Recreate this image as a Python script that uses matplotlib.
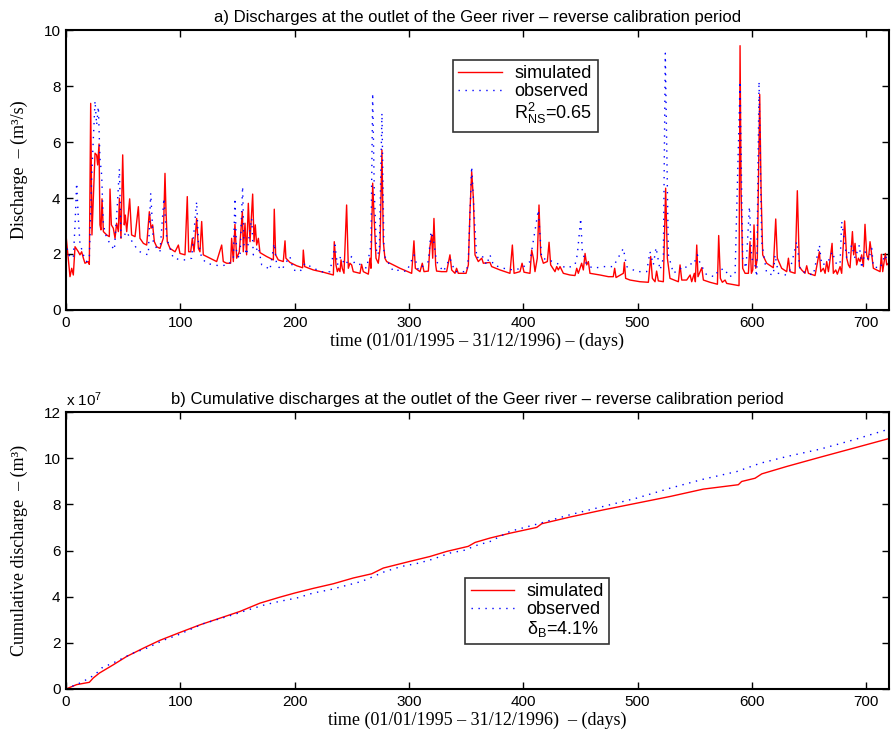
import matplotlib
matplotlib.use("Agg")
import matplotlib.pyplot as plt
from matplotlib.lines import Line2D

plt.rcParams['font.family'] = ['Liberation Sans', 'DejaVu Sans']
plt.rcParams['mathtext.fontset'] = 'custom'
plt.rcParams['mathtext.rm'] = 'Liberation Sans'
plt.rcParams['mathtext.it'] = 'Liberation Sans'
plt.rcParams['mathtext.default'] = 'regular'

# ---------------- data ----------------
sim_days = [
    0, 3.5, 5.0, 6.4, 7.9, 10.8, 12.2, 13.7, 15.2, 16.6, 19.5, 20.4, 21.6, 22.7, 25.4, 26.8, 27.7, 28.9, 29.7, 30.6,
    31.5, 32.7, 35.6, 37.9, 38.5, 39.7, 41.4, 42.9, 44.3, 45.8, 46.7, 48.1, 49.6, 51.0, 51.9, 53.1, 55.7, 57.4, 60.4, 63.3,
    64.7, 67.7, 70.6, 72.9, 74.4, 75.8, 77.3, 79.3, 82.2, 83.7, 85.1, 86.6, 87.5, 88.6, 91.0, 95.4, 98.3, 99.7, 104.1, 106.1,
    107.3, 109.1, 110.5, 112.0, 114.3, 115.8, 117.2, 118.7, 120.1, 126.0, 131.8, 136.2, 137.6, 140.6, 144.0, 144.9, 146.4, 147.8, 149.3, 151.6,
    154.3, 155.1, 156.6, 158.0, 159.5, 161.0, 163.3, 164.5, 165.6, 166.8, 168.3, 169.7, 175.5, 181.4, 182.2, 183.4, 185.7, 190.1, 191.6, 192.4,
    195.9, 201.8, 207.0, 207.6, 208.8, 216.4, 225.1, 233.9, 234.7, 236.2, 237.4, 238.5, 239.7, 240.6, 241.7, 243.2, 245.5, 247.0, 248.4, 249.9,
    251.3, 257.2, 258.6, 260.1, 264.5, 265.9, 266.8, 268.3, 269.7, 271.2, 273.2, 274.7, 276.4, 277.6, 279.0, 280.5, 286.3, 292.2, 298.0, 302.4,
    304.4, 305.6, 309.7, 311.7, 313.2, 317.0, 318.4, 319.9, 320.8, 321.9, 323.4, 324.2, 328.6, 333.0, 335.9, 337.4, 340.3, 341.7, 343.2, 350.0,
    352.0, 353.4, 354.9, 356.4, 357.8, 360.7, 363.7, 365.1, 370.9, 372.4, 379.7, 388.4, 390.5, 392.0, 397.2, 399.0, 400.7, 405.9, 407.4, 408.9,
    410.3, 412.3, 413.8, 415.3, 417.6, 421.1, 422.6, 424.0, 427.8, 429.3, 430.7, 432.2, 435.1, 440.9, 445.3, 446.8, 448.2, 451.1, 452.6, 454.1,
    455.5, 457.0, 458.4, 467.2, 474.5, 478.8, 480.0, 481.2, 487.6, 488.5, 489.6, 493.4, 502.2, 509.5, 511.5, 513.0, 515.3, 516.7, 518.2, 522.6,
    524.6, 526.1, 528.4, 535.7, 537.2, 538.7, 543.0, 546.0, 547.4, 549.7, 550.6, 551.8, 552.9, 554.7, 556.2, 557.6, 563.4, 569.9, 571.0, 572.5,
    574.2, 576.6, 578.0, 588.8, 589.7, 590.6, 592.0, 594.1, 597.0, 598.4, 599.6, 600.8, 601.9, 603.4, 604.8, 606.9, 608.1, 609.5, 613.0, 618.8,
    620.9, 622.3, 626.1, 630.5, 632.0, 633.4, 637.8, 639.8, 641.6, 643.6, 646.5, 648.0, 649.5, 655.3, 659.1, 660.3, 662.6, 664.1, 665.5, 667.0,
    668.4, 670.2, 671.3, 673.4, 674.8, 677.2, 678.6, 681.2, 683.0, 684.5, 685.9, 688.0, 689.1, 690.3, 691.7, 693.2, 694.7, 696.1, 697.6, 699.0,
    700.5, 702.0, 703.4, 704.9, 706.3, 712.2, 713.3, 714.5, 716.8, 718.0, 719.5, 720]
sim_q = [
    2.68, 1.19, 1.49, 1.25, 2.26, 2.08, 1.97, 2.08, 1.85, 1.67, 1.73, 1.63, 7.38, 2.68, 5.60, 5.54, 5.18, 5.93, 3.04, 2.86,
    3.97, 2.80, 2.68, 2.62, 4.32, 3.04, 2.92, 2.56, 3.10, 2.80, 3.99, 2.56, 5.54, 3.04, 3.39, 2.80, 3.97, 2.68, 2.62, 3.69,
    2.56, 2.38, 2.32, 3.51, 2.92, 3.04, 2.44, 2.26, 2.20, 2.38, 2.56, 4.88, 3.51, 2.44, 2.20, 2.08, 2.32, 2.02, 1.97, 4.05,
    2.08, 2.08, 2.56, 2.08, 3.27, 2.20, 2.08, 3.16, 1.97, 1.85, 1.73, 2.32, 1.73, 1.67, 1.67, 2.56, 1.73, 3.06, 1.85, 2.08,
    3.51, 2.08, 3.10, 1.97, 3.81, 2.44, 4.14, 2.44, 3.04, 2.32, 2.56, 2.05, 1.91, 1.79, 3.60, 1.97, 1.79, 1.73, 2.47, 1.85,
    1.70, 1.58, 1.51, 2.14, 1.55, 1.43, 1.35, 1.25, 2.44, 1.61, 1.37, 1.49, 1.37, 1.79, 1.49, 1.31, 3.75, 1.49, 1.67, 1.61,
    1.37, 1.31, 1.63, 1.37, 1.28, 1.85, 1.49, 4.53, 3.16, 1.85, 1.67, 2.20, 5.72, 2.44, 1.85, 1.73, 1.61, 1.49, 1.39, 1.31,
    2.47, 1.49, 1.37, 1.67, 1.37, 1.39, 2.26, 2.68, 1.85, 3.27, 1.61, 1.39, 1.37, 1.37, 1.97, 1.43, 1.31, 1.49, 1.31, 1.31,
    1.61, 3.51, 4.94, 3.99, 1.97, 1.73, 1.85, 1.67, 1.70, 1.55, 1.43, 1.31, 2.32, 1.31, 1.37, 1.67, 1.35, 1.31, 2.14, 1.85,
    1.37, 1.85, 3.75, 1.97, 1.67, 1.73, 2.42, 1.61, 1.37, 1.55, 1.43, 1.55, 1.31, 1.25, 1.23, 1.49, 1.31, 1.67, 1.43, 2.02,
    1.61, 1.73, 1.31, 1.25, 1.19, 1.19, 1.49, 1.16, 1.31, 1.70, 1.13, 1.07, 1.01, 0.99, 1.91, 1.13, 1.01, 1.39, 1.04, 1.01,
    4.35, 1.85, 1.13, 1.01, 1.61, 1.07, 1.07, 1.25, 1.01, 1.31, 1.01, 2.32, 1.19, 1.37, 1.51, 1.07, 0.99, 0.92, 2.66, 1.13,
    0.99, 1.07, 0.95, 0.87, 9.44, 4.23, 1.49, 1.31, 1.31, 2.44, 1.31, 1.43, 3.04, 1.49, 1.85, 7.70, 4.23, 1.97, 1.67, 1.51,
    3.25, 1.85, 1.49, 1.37, 1.85, 1.37, 1.31, 4.26, 1.55, 1.43, 1.31, 1.58, 1.31, 1.23, 2.08, 1.37, 1.49, 1.31, 1.73, 1.37,
    1.79, 2.38, 1.31, 1.43, 1.28, 1.55, 1.31, 3.18, 1.85, 1.61, 1.51, 2.80, 1.97, 2.38, 1.61, 1.85, 1.73, 1.97, 1.55, 3.06,
    1.97, 1.79, 2.44, 1.97, 1.49, 1.37, 1.99, 1.37, 2.02, 1.61, 1.67, 1.37]

obs_days = [
    0, 2.0, 6.4, 7.9, 9.3, 10.8, 12.2, 15.2, 18.1, 20.4, 22.5, 25.4, 26.8, 28.3, 29.7, 31.2, 32.7, 35.6, 38.5, 42.3,
    44.9, 46.7, 48.1, 50.2, 53.1, 56.0, 58.9, 61.8, 64.7, 67.7, 72.0, 74.1, 76.4, 79.3, 82.2, 85.7, 88.1, 93.9, 101.2, 105.6,
    109.9, 114.3, 115.8, 118.7, 123.1, 128.9, 134.7, 142.0, 146.4, 147.8, 149.3, 152.2, 154.5, 155.7, 158.0, 162.4, 163.9, 168.3, 171.2, 177.0,
    178.4, 182.2, 184.3, 188.7, 193.0, 195.9, 198.9, 204.7, 209.1, 216.4, 225.1, 230.9, 235.3, 237.4, 240.3, 244.1, 249.9, 252.8, 257.2, 263.0,
    266.8, 268.3, 269.7, 271.8, 274.1, 276.4, 278.2, 280.5, 286.3, 292.2, 298.0, 304.4, 308.2, 317.0, 319.3, 321.3, 324.2, 330.1, 335.9, 340.3,
    350.5, 352.0, 354.9, 357.0, 359.3, 363.7, 368.0, 370.9, 373.9, 382.6, 391.4, 398.6, 405.9, 413.2, 416.1, 422.0, 429.3, 438.0, 445.3, 447.3,
    450.3, 451.7, 455.5, 461.3, 470.1, 478.8, 487.6, 490.5, 499.2, 508.0, 510.9, 513.8, 516.2, 519.7, 522.6, 524.3, 527.0, 531.4, 537.2, 540.1,
    545.4, 548.9, 552.4, 554.7, 560.5, 567.8, 570.7, 576.6, 579.5, 585.3, 589.7, 592.0, 594.9, 597.9, 599.9, 602.8, 604.3, 606.3, 608.6, 613.0,
    618.8, 620.3, 623.2, 629.9, 633.4, 639.3, 642.2, 648.0, 653.8, 659.1, 661.1, 665.5, 668.4, 670.2, 674.3, 677.2, 678.6, 680.7, 683.0, 687.4,
    690.3, 694.1, 696.1, 699.0, 702.0, 704.9, 706.3, 712.2, 716.5, 720]
obs_q = [
    2.44, 1.97, 1.85, 3.04, 4.53, 3.27, 2.38, 1.97, 1.73, 1.85, 4.82, 7.47, 6.61, 7.26, 5.42, 4.82, 3.04, 2.56, 2.38, 2.14,
    3.75, 5.04, 2.56, 2.62, 2.80, 2.56, 2.38, 2.20, 2.08, 2.02, 1.97, 4.17, 2.44, 2.20, 2.08, 3.99, 2.56, 1.85, 1.79, 1.79,
    1.85, 3.87, 2.44, 1.85, 1.67, 1.61, 1.58, 1.61, 1.85, 3.99, 1.97, 1.85, 4.41, 2.32, 1.97, 3.27, 1.97, 2.26, 1.61, 1.49,
    1.43, 2.38, 1.61, 1.43, 1.73, 1.91, 1.43, 1.37, 1.67, 1.49, 1.35, 1.37, 2.32, 1.61, 1.91, 1.61, 1.91, 1.63, 1.63, 1.49,
    2.32, 7.74, 4.23, 1.97, 2.08, 7.03, 1.97, 1.79, 1.39, 1.43, 1.37, 1.97, 1.43, 1.73, 2.80, 2.56, 1.73, 1.37, 1.85, 1.37,
    1.37, 1.85, 5.12, 3.51, 1.85, 1.97, 1.61, 1.97, 1.61, 1.49, 1.43, 1.49, 1.73, 3.57, 1.85, 1.79, 1.67, 1.49, 1.61, 1.97,
    3.27, 2.08, 1.61, 1.49, 1.55, 1.55, 2.20, 1.55, 1.37, 1.37, 2.08, 1.61, 2.23, 1.43, 1.85, 9.17, 1.97, 1.31, 1.49, 1.43,
    1.67, 1.61, 1.97, 1.67, 1.25, 1.19, 1.43, 1.47, 1.19, 1.25, 8.16, 1.85, 1.49, 3.69, 1.85, 1.61, 1.19, 8.16, 2.44, 1.31,
    1.25, 1.97, 1.31, 1.25, 1.43, 2.44, 1.43, 1.31, 1.25, 2.32, 1.61, 1.67, 1.85, 2.08, 1.61, 1.67, 3.16, 2.56, 1.85, 2.32,
    1.85, 2.32, 1.49, 2.08, 1.79, 2.20, 1.55, 1.49, 1.97, 1.61]

# cumulative volumes in units of 1e7 m3
cum_sim_days = [0, 9.3, 20.4, 23.9, 29.2, 41.4, 53.1, 67.7, 82.2, 99.7, 117.2, 134.7, 152.2, 169.7, 187.2,
                200.3, 216.4, 233.9, 251.4, 267.4, 277.6, 300.9, 318.4, 333.0, 351.9, 357.9, 371.0, 388.5, 411.8,
                416.2, 441.0, 470.1, 499.3, 528.5, 557.6, 588.2, 591.1, 602.8, 608.7, 630.5, 659.7, 688.8, 720]
cum_sim = [0, 0.19, 0.29, 0.48, 0.69, 1.05, 1.41, 1.77, 2.11, 2.45, 2.78, 3.07, 3.36, 3.72, 3.98,
           4.16, 4.36, 4.56, 4.81, 4.99, 5.24, 5.53, 5.74, 5.96, 6.18, 6.35, 6.54, 6.75, 7.00,
           7.16, 7.45, 7.76, 8.05, 8.34, 8.66, 8.85, 8.99, 9.13, 9.32, 9.64, 10.04, 10.43, 10.85]
cum_obs_days = [0, 6.4, 13.7, 25.4, 31.2, 44.3, 57.4, 70.6, 85.1, 98.3, 120.1, 146.4, 159.5, 174.1, 187.2,
                201.8, 216.4, 230.9, 245.5, 258.6, 265.9, 279.1, 293.6, 308.2, 321.3, 335.9, 350.5, 356.3,
                371.0, 388.5, 413.3, 441.0, 470.1, 499.3, 528.5, 557.6, 586.8, 607.4, 630.5, 659.7, 688.8, 720]
cum_obs = [0, 0.14, 0.29, 0.62, 0.91, 1.20, 1.53, 1.77, 2.11, 2.35, 2.83, 3.22, 3.43, 3.65, 3.80,
           3.94, 4.16, 4.30, 4.49, 4.66, 4.81, 5.09, 5.31, 5.45, 5.63, 5.89, 6.03, 6.18,
           6.39, 6.83, 7.16, 7.55, 7.91, 8.27, 8.70, 9.09, 9.42, 9.78, 10.07, 10.39, 10.79, 11.26]

x_ticks = [0, 100, 200, 300, 400, 500, 600, 700]
top_yticks = [0, 2, 4, 6, 8, 10]
bot_yticks = [0, 2, 4, 6, 8, 10, 12]

title_a = "a) Discharges at the outlet of the Geer river \u2013 reverse calibration period"
title_b = "b) Cumulative discharges at the outlet of the Geer river \u2013 reverse calibration period"
xlab_a = "time (01/01/1995 \u2013 31/12/1996) \u2013 (days)"
xlab_b = "time (01/01/1995 \u2013 31/12/1996)  \u2013 (days)"
ylab_a = "Discharge  \u2013 (m\u00b3/s)"
ylab_b = "Cumulative discharge  \u2013 (m\u00b3)"
lab_sim = "simulated"
lab_obs = "observed"
lab_stat_a = r"R$^2_{NS}$=0.65"
lab_stat_b = r"$\delta_B$=4.1%"

# ---------------- figure ----------------
fig = plt.figure(figsize=(8.91, 7.41), dpi=100)
ax1 = fig.add_axes([66/891, 1 - 310/741, 823/891, 280/741])
ax2 = fig.add_axes([66/891, 1 - 689/741, 823/891, 277/741])

RED = '#ff0000'
BLUE = '#0000ff'
DOTS = (1, 4)
serif = ['Liberation Serif', 'DejaVu Serif']

def style(ax, yt, ymax):
    ax.set_xlim(0, 720)
    ax.set_ylim(0, ymax)
    ax.set_xticks(x_ticks)
    ax.set_yticks(yt)
    ax.tick_params(direction='in', length=5, width=1.0, top=True, right=True,
                   labelsize=11, pad=4)
    for s in ax.spines.values():
        s.set_linewidth(1.5)

# top panel
ax1.plot(sim_days, sim_q, color=RED, lw=1.0)
ax1.plot(obs_days, obs_q, color=BLUE, lw=1.0, dashes=DOTS)
style(ax1, top_yticks, 10)
ax1.set_title(title_a, fontsize=12, pad=6)
ax1.set_xlabel(xlab_a, family=serif, fontsize=13, labelpad=2)
ax1.set_ylabel(ylab_a, family=serif, fontsize=13)
ax1.yaxis.set_label_coords(-0.046, 0.5)
h1 = [Line2D([], [], color=RED, lw=1.0),
      Line2D([], [], color=BLUE, lw=1.0, dashes=DOTS),
      Line2D([], [], color='none')]
leg1 = ax1.legend(h1, [lab_sim, lab_obs, lab_stat_a], loc='upper left',
                  bbox_to_anchor=(0.470, 0.893), fontsize=13, frameon=True,
                  fancybox=False, edgecolor='black', handlelength=2.4,
                  labelspacing=0.05, borderpad=0.3, handletextpad=0.7,
                  borderaxespad=0)
leg1.get_frame().set_linewidth(1.2)

# bottom panel
ax2.plot(cum_sim_days, cum_sim, color=RED, lw=1.0)
ax2.plot(cum_obs_days, cum_obs, color=BLUE, lw=1.0, dashes=DOTS)
style(ax2, bot_yticks, 12)
ax2.set_title(title_b, fontsize=12, pad=6)
ax2.set_xlabel(xlab_b, family=serif, fontsize=13, labelpad=2)
ax2.set_ylabel(ylab_b, family=serif, fontsize=13)
ax2.yaxis.set_label_coords(-0.046, 0.5)
ax2.text(0.0, 1.012, r"x 10$^7$", transform=ax2.transAxes, fontsize=11,
         ha='left', va='bottom')
h2 = [Line2D([], [], color=RED, lw=1.0),
      Line2D([], [], color=BLUE, lw=1.0, dashes=DOTS),
      Line2D([], [], color='none')]
leg2 = ax2.legend(h2, [lab_sim, lab_obs, lab_stat_b], loc='upper left',
                  bbox_to_anchor=(0.485, 0.402), fontsize=13, frameon=True,
                  fancybox=False, edgecolor='black', handlelength=2.4,
                  labelspacing=0.05, borderpad=0.3, handletextpad=0.7,
                  borderaxespad=0)
leg2.get_frame().set_linewidth(1.2)

fig.savefig("out.png", dpi=100)
